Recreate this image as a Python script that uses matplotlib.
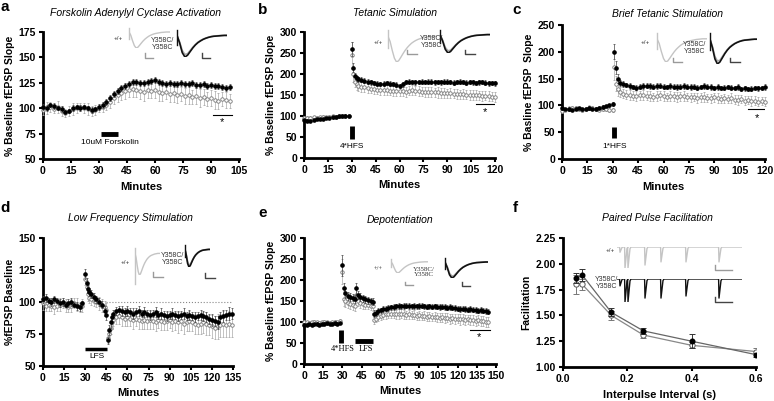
import matplotlib
matplotlib.use("Agg")
import matplotlib.pyplot as plt
from matplotlib.ticker import FormatStrFormatter

plt.rcParams['font.family'] = ['Liberation Sans', 'DejaVu Sans']

# ---------------- data ----------------
# a: forskolin
a_t = list(range(0, 101, 2))
a_black = [101, 100, 103, 102, 100, 99, 96, 97, 100, 101,
           100, 101, 100, 98, 99, 101, 103, 106, 110, 114,
           117, 120, 122, 124, 126, 126, 125, 125, 126, 127,
           128, 126, 125, 124, 125, 124, 124, 125, 124, 124,
           125, 123, 123, 124, 122, 123, 122, 122, 121, 120,
           121]
a_black_err = [3, 3, 2, 3, 2, 3, 2, 2, 3, 2, 3, 2, 2, 3, 2, 3, 3, 3, 3, 3,
               3, 3, 3, 3, 3, 3, 3, 3, 3, 3, 3, 3, 3, 3, 3, 3, 3, 3, 3, 3,
               3, 3, 3, 3, 3, 3, 3, 3, 3, 3, 3]
a_open = [98, 100, 101, 99, 101, 97, 95, 97, 99, 100,
          101, 100, 99, 97, 98, 100, 101, 103, 106, 110,
          113, 115, 117, 118, 119, 118, 117, 116, 118, 117,
          118, 116, 115, 116, 114, 115, 113, 114, 112, 113,
          111, 112, 110, 111, 109, 110, 108, 107, 109, 108,
          107]
a_open_err = [5, 6, 5, 4, 6, 5, 4, 5, 6, 5, 4, 5, 6, 5, 5, 4, 5, 5, 6, 6,
              7, 7, 8, 7, 8, 7, 8, 9, 8, 7, 8, 9, 8, 7, 8, 9, 8, 7, 8, 9,
              7, 8, 9, 8, 7, 8, 9, 8, 7, 8, 7]

# b: tetanic stimulation (b and c share sampling times)
b_t = list(range(0, 30, 2)) + [30, 31, 32, 33, 34] + list(range(36, 121, 2))
b_black = [90, 89, 88, 91, 92, 93, 94, 95, 96, 97, 98, 99, 100, 101, 100,
           260, 215, 195, 190, 188,
           186, 184, 182, 180, 178, 177, 176, 177, 178, 177,
           176, 174, 172, 176, 181, 182, 181, 180, 181, 182,
           180, 181, 182, 180, 181, 180, 182, 181, 180, 179,
           181, 182, 180, 179, 181, 180, 179, 180, 181, 179,
           178, 179, 178]
b_black_err = [3, 3, 2, 3, 2, 3, 2, 3, 2, 3, 2, 3, 2, 3, 3,
               16, 10, 8, 6, 6,
               6, 6, 5, 6, 5, 6, 5, 6, 5, 6, 5, 6, 5, 6, 5, 6, 5, 6, 5, 6,
               5, 6, 5, 6, 5, 6, 5, 6, 5, 6, 5, 6, 5, 6, 5, 6, 5, 6, 5, 6,
               6, 5, 6]
b_open = [95, 96, 95, 97, 96, 97, 98, 97, 98, 99, 98, 99, 100, 99, 100,
          245, 200, 182, 175, 172,
          170, 168, 166, 165, 164, 163, 162, 162, 161, 160,
          160, 159, 160, 159, 158, 160, 161, 160, 159, 158,
          158, 157, 157, 156, 156, 155, 155, 154, 154, 153,
          153, 152, 152, 151, 150, 150, 149, 149, 148, 148,
          147, 146, 145]
b_open_err = [4, 3, 4, 3, 4, 3, 4, 3, 4, 3, 4, 3, 4, 3, 4,
              30, 18, 14, 12, 12,
              12, 11, 12, 11, 12, 11, 12, 11, 12, 11, 12, 11, 12, 11, 12, 11,
              12, 11, 12, 11, 12, 11, 12, 11, 12, 11, 12, 11, 12, 11, 12, 11,
              12, 11, 12, 11, 12, 11, 12, 11, 12, 11, 12]

# c: brief tetanic stimulation
c_t = b_t
c_black = [95, 94, 93, 92, 94, 95, 93, 94, 95, 93, 94, 96, 97, 99, 100,
           103, 200, 170, 150, 142,
           140, 138, 136, 134, 133, 135, 136, 137, 136, 135,
           136, 137, 135, 134, 136, 135, 134, 135, 136, 135,
           134, 135, 133, 134, 136, 135, 134, 133, 134, 132,
           133, 134, 133, 132, 134, 131, 132, 130, 131, 133,
           132, 133, 134]
c_black_err = [3, 2, 3, 2, 3, 2, 3, 2, 3, 2, 3, 2, 3, 2, 3,
               4, 14, 12, 8, 6,
               5, 4, 5, 4, 5, 4, 5, 4, 5, 4, 5, 4, 5, 4, 5, 4, 5, 4, 5, 4,
               5, 4, 5, 4, 5, 4, 5, 4, 5, 4, 5, 4, 5, 4, 5, 4, 5, 4, 5, 4,
               5, 4, 5]
c_open = [90, 92, 94, 96, 95, 93, 92, 94, 96, 95, 93, 92, 94, 93, 91,
          92, 172, 140, 130, 125,
          122, 120, 119, 118, 117, 119, 120, 118, 117, 116,
          118, 119, 117, 116, 118, 117, 116, 117, 118, 116,
          115, 116, 114, 115, 116, 114, 113, 115, 114, 112,
          113, 112, 114, 111, 110, 112, 109, 110, 108, 109,
          107, 108, 107]
c_open_err = [4, 3, 4, 3, 4, 3, 4, 3, 4, 3, 4, 3, 4, 3, 4,
              4, 25, 14, 12, 10,
              9, 8, 9, 8, 9, 8, 9, 8, 9, 8, 9, 8, 9, 8, 9, 8, 9, 8, 9, 8,
              9, 8, 9, 8, 9, 8, 9, 8, 9, 8, 9, 8, 9, 8, 9, 8, 9, 8, 9, 8,
              9, 8, 9]

# d: low frequency stimulation
d_t = (list(range(0, 30, 2))
       + [30, 31, 32, 33, 34, 36, 38, 40, 42, 44, 45, 46, 47, 48, 49, 50, 52]
       + list(range(54, 136, 2)))
d_black = [102, 103, 101, 100, 102, 101, 99, 100, 98, 99, 100, 98, 97, 96, 99,
           122, 115, 110, 108, 106, 104, 102, 100, 98, 93, 90, 70, 78, 84, 88, 91, 93,
           94, 93, 92, 93, 92, 91, 92, 93, 91, 92,
           91, 90, 91, 92, 90, 91, 90, 89, 90, 91,
           90, 89, 90, 91, 89, 90, 89, 88, 89, 90,
           89, 88, 87, 86, 85, 84, 88, 89, 90, 91,
           91]
d_black_err = [3, 3, 2, 3, 3, 2, 3, 3, 2, 3, 3, 2, 3, 3, 2,
               4, 4, 3, 3, 3, 3, 3, 3, 3, 4, 4, 3, 4, 4, 3, 3, 3,
               3, 4, 3, 4, 3, 4, 3, 4, 3, 4, 3, 4, 3, 4, 3, 4, 3, 4, 3, 4,
               3, 4, 3, 4, 3, 4, 3, 4, 3, 4, 4, 4, 4, 5, 4, 5, 4, 5, 4, 5,
               4]
d_open = [99, 97, 98, 97, 96, 97, 98, 99, 97, 96, 97, 99, 98, 96, 97,
          118, 112, 106, 103, 102, 101, 100, 99, 97, 96, 94, 72, 75, 80, 84, 86, 88,
          89, 88, 87, 88, 87, 86, 87, 86, 85, 86,
          85, 86, 85, 84, 86, 85, 84, 85, 86, 84,
          85, 84, 85, 83, 84, 85, 84, 83, 82, 83,
          84, 83, 82, 81, 80, 81, 82, 83, 82, 83,
          82]
d_open_err = [5, 4, 5, 4, 5, 4, 5, 4, 5, 4, 5, 4, 5, 4, 5,
              5, 5, 5, 4, 4, 4, 4, 5, 5, 5, 5, 4, 5, 5, 5, 5, 5,
              6, 7, 6, 7, 6, 7, 6, 7, 6, 7, 6, 7, 6, 7, 6, 7, 6, 7, 6, 7,
              7, 8, 7, 8, 7, 8, 7, 8, 7, 8, 8, 9, 8, 9, 9, 10, 9, 10, 9, 10,
              9]

# e: depotentiation
e_t = (list(range(0, 30, 2))
       + [30, 31, 32, 34, 36, 38, 40, 41, 42, 44, 46, 48, 50, 52, 54, 55, 56, 58]
       + list(range(60, 146, 2)))
e_black = [94, 93, 95, 94, 95, 96, 94, 95, 96, 97, 95, 96, 97, 96, 98,
           235, 180, 168, 162, 160, 158, 155, 180, 165, 160, 156, 154, 152, 150, 148,
           120, 122, 126,
           128, 130, 132, 134, 135, 136, 137, 138, 137, 138,
           139, 138, 137, 138, 137, 138, 139, 137, 136, 137,
           136, 137, 136, 135, 136, 135, 134, 135, 134, 133,
           132, 131, 132, 130, 129, 130, 129, 128, 127, 128,
           127, 126, 125]
e_black_err = [3, 3, 3, 3, 3, 3, 3, 3, 3, 3, 3, 3, 3, 3, 3,
               25, 14, 12, 10, 10, 9, 9, 14, 10, 9, 9, 8, 8, 8, 8, 8, 7, 7,
               6, 7, 6, 7, 6, 7, 6, 7, 6, 7, 6, 7, 6, 7, 6, 7, 6, 7, 6, 7,
               6, 7, 6, 7, 6, 7, 6, 7, 6, 7, 6, 7, 6, 7, 6, 7, 6, 7, 6, 7,
               6, 7, 6]
e_open = [100, 99, 98, 99, 100, 99, 98, 99, 100, 99, 98, 99, 100, 99, 102,
          220, 155, 150, 145, 142, 140, 138, 165, 150, 145, 142, 140, 140, 138, 137,
          105, 108, 112,
          115, 117, 118, 120, 119, 120, 118, 119, 120, 118,
          117, 118, 116, 117, 115, 116, 114, 115, 113, 114,
          112, 113, 111, 110, 111, 109, 110, 108, 109, 107,
          108, 106, 107, 105, 106, 104, 105, 103, 104, 102,
          103, 101, 100]
e_open_err = [4, 4, 4, 4, 4, 4, 4, 4, 4, 4, 4, 4, 4, 4, 4,
              30, 18, 15, 12, 12, 11, 11, 15, 12, 11, 11, 10, 10, 10, 10, 10, 9, 9,
              10, 11, 10, 11, 10, 11, 10, 11, 10, 11,
              10, 11, 10, 11, 10, 11, 10, 11, 10, 11,
              10, 11, 10, 11, 11, 12, 11, 12, 11, 12,
              11, 12, 11, 12, 11, 12, 12, 12, 12, 12,
              12, 12, 12]

# f: paired pulse facilitation
f_x = [0.04, 0.06, 0.15, 0.25, 0.4, 0.6]
f_black = [1.86, 1.89, 1.53, 1.35, 1.25, 1.12]
f_black_err = [0.05, 0.06, 0.04, 0.03, 0.07, 0.02]
f_open = [1.80, 1.80, 1.50, 1.31, 1.21, 1.15]
f_open_err = [0.09, 0.05, 0.04, 0.03, 0.03, 0.03]

# inset waveforms (normalised)
epsp_wt = [0.0, -0.2, -0.55, -0.85, -1.0, -0.95, -0.82, -0.68, -0.55, -0.44,
           -0.35, -0.27, -0.21, -0.16, -0.12, -0.09, -0.07, -0.05, -0.03,
           -0.02, -0.01, 0.0, 0.0, 0.0]
epsp_mut = [0.0, -0.35, -0.8, -1.0, -0.92, -0.75, -0.58, -0.44, -0.33, -0.25,
            -0.18, -0.13, -0.09, -0.06, -0.04, -0.03, -0.02, -0.01, 0.0, 0.0]
epsp_mut_grey = [0.0, -0.3, -0.7, -0.88, -0.85, -0.7, -0.55, -0.42, -0.31, -0.23,
                 -0.17, -0.12, -0.08, -0.05, -0.03, -0.02, -0.01, 0.0, 0.0, 0.0]
stim = [0.25, -0.45]
scale_x = [0, 0, 1]
scale_y = [1, 0, 0]
ppf_pos = [3, 8, 11, 28, 44, 69, 102]
ppf_wt_amp = [0.25, 1.0, 1.0, 0.86, 0.71, 0.71, 0.71]
ppf_mut_amp = [0.3, 1.0, 1.0, 0.83, 0.83, 0.74, 0.83]

# ---------------- figure ----------------
W, H = 774, 401
fig = plt.figure(figsize=(W / 100, H / 100), dpi=100)


def px_axes(x0, y0, x1, y1):
    return fig.add_axes([x0 / W, 1 - y1 / H, (x1 - x0) / W, (y1 - y0) / H])


def ftext(x, y, s, **kw):
    fig.text(x / W, 1 - y / H, s, **kw)


def style(ax, xlim, xticks, ylim, yticks, ylabel, xlabel="Minutes"):
    for s in ["top", "right"]:
        ax.spines[s].set_visible(False)
    for s in ["left", "bottom"]:
        ax.spines[s].set_linewidth(2)
    ax.set_xlim(*xlim)
    ax.set_ylim(*ylim)
    ax.set_xticks(xticks)
    ax.set_yticks(yticks)
    ax.tick_params(direction="out", length=3, width=1.5, labelsize=7.5, pad=2)
    for lab in ax.get_xticklabels() + ax.get_yticklabels():
        lab.set_fontweight("bold")
    ax.set_xlabel(xlabel, fontsize=8, fontweight="bold", labelpad=4)
    ax.set_ylabel(ylabel, fontsize=7.5, fontweight="bold", labelpad=3)


def plot_pair(ax, t, ov, oe, bv, be):
    ax.errorbar(t, ov, yerr=oe, fmt="o", ms=2.5, mfc="white", mec="#777777",
                mew=0.6, ecolor="#aaaaaa", elinewidth=0.5, capsize=1.0,
                capthick=0.5, clip_on=False, zorder=3)
    ax.errorbar(t, bv, yerr=be, fmt="o", ms=2.3, mfc="black", mec="black",
                ecolor="#444444", elinewidth=0.5, capsize=1.0, capthick=0.5,
                clip_on=False, zorder=4)


def trace(box, ys, color, lw=1.0, stim_y=None, overlay=None):
    ax = px_axes(*box)
    ax.axis("off")
    if overlay is not None:
        ax.plot(range(len(overlay)), overlay, color="#aaaaaa", lw=lw)
    ax.plot(range(len(ys)), ys, color=color, lw=lw)
    if stim_y is not None:
        ax.plot([0, 0], stim_y, color=color, lw=1.0, clip_on=False)
    ax.set_xlim(0, len(ys) - 1)
    ax.set_ylim(-1.0, 0.25)


def scalebar(box, color):
    ax = px_axes(*box)
    ax.axis("off")
    ax.plot(scale_x, scale_y, color=color, lw=1.0, clip_on=False)
    ax.set_xlim(0, 1)
    ax.set_ylim(0, 1)


def epsp_inset(wt_box, wt_sb, txt_xy, mut_box, mut_sb, pp_xy, family=None, wt_stim=stim):
    kw = {"family": family} if family else {}
    ftext(*pp_xy, "+/+", fontsize=4.5, ha="center", va="center", color="#333333", **kw)
    trace(wt_box, epsp_wt, "#c4c4c4", stim_y=wt_stim)
    scalebar(wt_sb, "#9a9a9a")
    ftext(*txt_xy, "Y358C/\nY358C", fontsize=5, ha="center", va="center",
          linespacing=1.1, color="#333333", **kw)
    trace(mut_box, epsp_mut, "#111111", lw=1.2, stim_y=stim, overlay=epsp_mut_grey)
    scalebar(mut_sb, "#444444")


def pulse_train(box, amps, color):
    xs, ys = [0], [0]
    for p, a in zip(ppf_pos, amps):
        xs += [p - 0.4, p, p + 2.0, p + 3.0]
        ys += [0, -a, -0.08 * a, 0]
    xs.append(125)
    ys.append(0)
    ax = px_axes(*box)
    ax.axis("off")
    ax.plot(xs, ys, color=color, lw=1.0)
    ax.set_xlim(0, 125)
    ax.set_ylim(-1.0, 0)


# panel a
ax = px_axes(43, 32, 239, 159)
plot_pair(ax, a_t, a_open, a_open_err, a_black, a_black_err)
style(ax, (0, 105), range(0, 106, 15), (50, 175), range(50, 176, 25), "% Baseline fEPSP Slope")
ax.plot([31, 40], [75, 75], color="black", lw=3.5, solid_capstyle="butt")
ax.text(36, 66, "10uM Forskolin", fontsize=6, ha="center", va="center")
ax.plot([91, 101], [93, 93], color="black", lw=0.8)
ax.text(96, 86, "*", fontsize=8, ha="center", va="center")
epsp_inset((129, 28, 170, 48), (145, 53, 153, 58), (163, 44),
           (177, 30, 227, 57), (202, 53, 210, 58), (118, 39))

# panel b
ax = px_axes(304, 32, 495, 158)
plot_pair(ax, b_t, b_open, b_open_err, b_black, b_black_err)
style(ax, (0, 120), range(0, 121, 15), (0, 300), range(0, 301, 50), "% Baseline fEPSP Slope")
ax.plot([30, 30], [45, 77], color="black", lw=3.5, solid_capstyle="butt")
ax.text(30, 28, "4*HFS", fontsize=6, ha="center", va="center")
ax.plot([108, 120], [128, 128], color="black", lw=0.8)
ax.text(114, 110, "*", fontsize=8, ha="center", va="center")
epsp_inset((388, 30, 437, 62), (407, 50, 417, 54), (432, 42),
           (440, 30, 490, 53), (465, 50, 475, 54), (378, 42))

# panel c
ax = px_axes(562, 25, 765, 159)
plot_pair(ax, c_t, c_open, c_open_err, c_black, c_black_err)
style(ax, (0, 120), range(0, 121, 15), (0, 250), range(0, 251, 50), "% Basline fEPSP  Slope")
ax.plot([31, 31], [39, 60], color="black", lw=3.5, solid_capstyle="butt")
ax.text(31, 24, "1*HFS", fontsize=6, ha="center", va="center")
ax.plot([110, 121], [93, 93], color="black", lw=0.8)
ax.text(115, 76, "*", fontsize=8, ha="center", va="center")
epsp_inset((657, 33, 707, 62), (673, 58, 682, 62), (695, 48),
           (710, 33, 757, 64), (730, 58, 740, 62), (645, 43))

# panel d
ax = px_axes(43, 238, 233, 366)
ax.plot([45, 135], [100, 100], color="#888888", lw=0.8, ls=":", zorder=1)
plot_pair(ax, d_t, d_open, d_open_err, d_black, d_black_err)
style(ax, (0, 135), range(0, 136, 15), (50, 150), range(50, 151, 25), "%fEPSP Baseline")
ax.plot([30, 45.5], [63, 63], color="black", lw=2.5, solid_capstyle="butt")
ax.text(38, 57.5, "LFS", fontsize=6, ha="center", va="center")
epsp_inset((135, 248, 160, 275), (153, 272, 163, 277), (173, 259),
           (185, 245, 210, 267), (205, 273, 215, 278), (125, 262),
           wt_stim=[0.25, -1.4])

# panel e
ax = px_axes(304, 238, 496, 364)
plot_pair(ax, e_t, e_open, e_open_err, e_black, e_black_err)
style(ax, (0, 150), range(0, 151, 15), (0, 300), range(0, 301, 50), "% Baseline fEPSP Slope")
ax.plot([29, 29], [50, 81], color="black", lw=3.5, solid_capstyle="butt")
ax.plot([40, 54], [55, 55], color="black", lw=3.5, solid_capstyle="butt")
ax.text(30, 35, "4*HFS", fontsize=6, ha="center", va="center", family="Liberation Serif")
ax.text(48, 35, "LFS", fontsize=6, ha="center", va="center", family="Liberation Serif")
ax.plot([130, 145], [81, 81], color="black", lw=0.8)
ax.text(137, 63, "*", fontsize=8, ha="center", va="center")
epsp_inset((391, 259, 428, 273), (405, 282, 413, 285), (424, 272),
           (445, 258, 488, 278), (462, 282, 470, 286), (378, 269),
           family="Liberation Serif")

# panel f
ax = px_axes(563, 238, 756, 367)
ax.errorbar(f_x, f_open, yerr=f_open_err, fmt="-o", color="#888888", lw=0.9,
            ms=3.8, mfc="white", mec="#555555", mew=0.7, ecolor="#777777",
            elinewidth=0.7, capsize=2, capthick=0.7, zorder=3)
ax.errorbar(f_x, f_black, yerr=f_black_err, fmt="-o", color="#666666", lw=0.9,
            ms=3.3, mfc="black", mec="black", ecolor="#333333",
            elinewidth=0.7, capsize=2, capthick=0.7, zorder=4)
style(ax, (0, 0.6), [0.0, 0.2, 0.4, 0.6], (1.0, 2.25), [1.0, 1.25, 1.5, 1.75, 2.0, 2.25],
      "Facilitation", xlabel="Interpulse Interval (s)")
ax.xaxis.set_major_formatter(FormatStrFormatter("%.1f"))
ax.yaxis.set_major_formatter(FormatStrFormatter("%.2f"))
for lab in ax.get_xticklabels() + ax.get_yticklabels():
    lab.set_fontweight("bold")
pulse_train((617, 247, 742, 268), ppf_wt_amp, "#c4c4c4")
pulse_train((617, 279, 742, 302), ppf_mut_amp, "#111111")
scalebar((715, 265, 732, 270), "#9a9a9a")
scalebar((715, 297, 732, 302), "#444444")
ftext(610, 250, "+/+", fontsize=4.5, ha="center", va="center", color="#333333")
ftext(607, 283, "Y358C/\nY358C", fontsize=5, ha="center", va="center",
      linespacing=1.1, color="#333333")

# titles and panel letters
for x, y, s in [(135, 13, "Forskolin Adenylyl Cyclase Activation"),
                (395, 13, "Tetanic Simulation"),
                (668, 14, "Brief Tetanic Stimulation"),
                (130, 218, "Low Frequency Stimulation"),
                (400, 220, "Depotentiation"),
                (657, 218, "Paired Pulse Facilitation")]:
    ftext(x, y, s, fontsize=7.5, style="italic", ha="center", va="center")
for x, y, s in [(5, 7, "a"), (263, 10, "b"), (517, 10, "c"),
                (5, 208, "d"), (263, 213, "e"), (515, 208, "f")]:
    ftext(x, y, s, fontsize=11, fontweight="bold", ha="center", va="center")

fig.savefig("out.png", dpi=100)
